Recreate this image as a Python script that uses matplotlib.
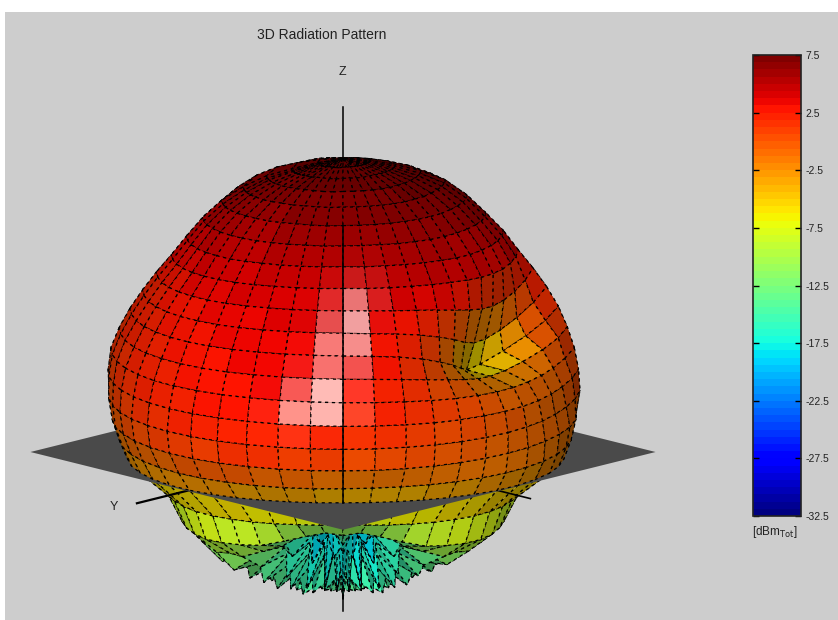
import numpy as np
import matplotlib
matplotlib.use("Agg")
import matplotlib.pyplot as plt
from matplotlib.colors import Normalize
from matplotlib.colorbar import ColorbarBase
from matplotlib.patches import Rectangle
from mpl_toolkits.mplot3d import proj3d

# far field gain, dB
GAIN_MIN = -32.5
GAIN_MAX = 7.5
CBAR_TICKS = [7.5, 2.5, -2.5, -7.5, -12.5, -17.5, -22.5, -27.5, -32.5]

# azimuth of each column, seen from the camera (0 faces us, + is to the right)
AZ_FRONT = [-90, -82.5, -75, -67.5, -60, -52.5, -45, -37.5, -30, -22.5, -15, -7.5, 0,
            7.5, 15, 22.5, 30, 37.5, 45, 52.5, 60, 67.5, 75, 82.5, 90]
AZ_BACK = [120, 150, 180, 210, 240, 270]

THETA_UP = [0, 5, 10, 15, 20, 25, 30, 35, 40, 45, 50, 55, 60, 65, 70, 75, 80, 85, 90]
GAIN_UP = [
    [7.5]*25,
    [7.1, 7.1, 7.1, 7.2, 7.2, 7.2, 7.2, 7.3, 7.3, 7.3, 7.3, 7.3, 7.4, 7.4, 7.4, 7.4, 7.4, 7.4, 7.4, 7.4, 7.4, 7.4, 7.4, 7.4, 7.4],
    [6.7, 6.7, 6.8, 6.8, 6.9, 6.9, 7.0, 7.0, 7.1, 7.1, 7.1, 7.1, 7.2, 7.2, 7.2, 7.2, 7.3, 7.3, 7.3, 7.3, 7.3, 7.3, 7.3, 7.3, 7.3],
    [6.5, 6.5, 6.6, 6.6, 6.7, 6.7, 6.8, 6.8, 6.9, 6.9, 6.9, 6.9, 7.0, 7.0, 7.0, 7.0, 7.0, 7.0, 7.1, 7.1, 7.2, 7.2, 7.2, 7.2, 7.2],
    [6.0, 6.0, 6.1, 6.2, 6.3, 6.3, 6.4, 6.5, 6.5, 6.6, 6.6, 6.6, 6.7, 6.7, 6.7, 6.7, 6.7, 6.7, 6.8, 6.8, 6.9, 7.0, 7.0, 7.0, 7.0],
    [5.4, 5.4, 5.5, 5.6, 5.7, 5.8, 5.9, 5.9, 6.0, 6.1, 6.1, 6.1, 6.2, 6.2, 6.2, 6.2, 6.2, 6.2, 6.2, 6.2, 6.3, 6.3, 6.3, 6.3, 6.2],
    [4.5, 4.6, 4.7, 4.8, 4.9, 5.0, 5.1, 5.2, 5.3, 5.4, 5.5, 5.5, 5.6, 5.6, 5.6, 5.5, 5.5, 5.4, 5.4, 5.4, 5.4, 5.4, 5.3, 5.3, 5.2],
    [3.5, 3.6, 3.7, 3.8, 4.0, 4.2, 4.3, 4.5, 4.7, 4.8, 4.9, 5.0, 5.1, 5.0, 5.0, 4.9, 4.8, 4.7, 4.5, 4.4, 4.4, 4.4, 4.4, 4.4, 4.4],
    [2.7, 2.8, 2.9, 3.1, 3.3, 3.5, 3.7, 3.9, 4.1, 4.3, 4.4, 4.5, 4.6, 4.5, 4.4, 4.3, 4.1, 3.9, 3.6, 3.3, 3.1, 3.0, 3.1, 3.3, 3.5],
    [2.3, 2.4, 2.5, 2.7, 2.9, 3.1, 3.3, 3.5, 3.7, 3.9, 4.0, 4.1, 4.1, 4.0, 3.7, 3.3, 2.7, 1.9, 1.0, 0.2, -0.2, 0.0, 0.7, 1.8, 3.0],
    [2.0, 2.1, 2.2, 2.4, 2.6, 2.8, 3.0, 3.2, 3.4, 3.6, 3.7, 3.8, 3.8, 3.5, 3.0, 2.1, 0.7, -1.0, -2.8, -4.0, -4.2, -3.2, -1.5, 0.6, 2.6],
    [1.8, 1.9, 2.0, 2.2, 2.4, 2.6, 2.8, 3.0, 3.2, 3.4, 3.5, 3.6, 3.5, 3.2, 2.4, 0.9, -1.2, -3.4, -5.6, -7.4, -7.0, -4.6, -2.0, 0.4, 2.2],
    [1.6, 1.7, 1.9, 2.0, 2.2, 2.4, 2.6, 2.8, 3.0, 3.2, 3.3, 3.3, 3.2, 2.9, 2.1, 0.9, -0.5, -2.0, -3.4, -4.2, -4.0, -2.8, -1.0, 0.6, 1.7],
    [1.3, 1.4, 1.6, 1.8, 2.0, 2.2, 2.4, 2.6, 2.8, 3.0, 3.0, 3.0, 2.8, 2.5, 2.0, 1.2, 0.4, -0.2, -0.8, -1.2, -1.4, -1.2, -0.8, 0.1, 1.2],
    [0.5, 0.7, 0.9, 1.2, 1.5, 1.8, 2.0, 2.3, 2.5, 2.6, 2.6, 2.5, 2.2, 2.0, 1.6, 1.0, 0.5, 0.1, -0.3, -0.6, -0.8, -0.8, -0.6, 0.0, 0.6],
    [-0.5, -0.2, 0.1, 0.5, 0.9, 1.2, 1.5, 1.7, 1.9, 2.0, 1.9, 1.7, 1.2, 1.2, 0.9, 0.4, 0.0, -0.3, -0.6, -0.9, -1.0, -1.1, -0.9, -0.5, -0.1],
    [-1.6, -1.3, -0.9, -0.6, -0.2, 0.1, 0.4, 0.6, 0.7, 0.7, 0.6, 0.3, -0.2, 0.0, -0.3, -0.6, -0.9, -1.1, -1.2, -1.2, -1.2, -1.1, -1.0, -1.0, -1.2],
    [-2.9, -2.6, -2.3, -2.1, -1.9, -1.8, -1.7, -1.7, -1.8, -1.9, -2.1, -2.4, -2.8, -2.9, -2.8, -2.6, -2.4, -2.2, -2.0, -1.9, -1.8, -1.8, -1.9, -2.0, -2.2],
    [-4.0, -3.8, -3.6, -3.5, -3.5, -3.6, -3.8, -4.1, -4.4, -4.8, -5.1, -5.3, -5.5, -5.4, -5.2, -4.9, -4.5, -4.1, -3.7, -3.4, -3.2, -3.0, -3.0, -3.1, -3.2],
]
# far side of the dome, only the top rows ever show over the crown
GAIN_UP_BACK = [
    [7.5, 7.5, 7.5, 7.5, 7.5, 7.5],
    [7.2, 7.0, 6.9, 7.0, 7.1, 7.1],
    [6.9, 6.6, 6.5, 6.6, 6.7, 6.7],
    [6.6, 6.2, 6.1, 6.2, 6.4, 6.5],
    [6.2, 5.8, 5.7, 5.8, 5.9, 6.0],
    [5.6, 5.2, 5.0, 5.1, 5.2, 5.4],
    [4.8, 4.4, 4.2, 4.3, 4.4, 4.5],
    [4.0, 3.6, 3.4, 3.5, 3.6, 3.5],
    [3.2, 2.8, 2.6, 2.7, 2.8, 2.7],
    [2.6, 2.2, 2.0, 2.1, 2.2, 2.3],
    [2.2, 1.8, 1.6, 1.7, 1.8, 2.0],
    [2.0, 1.6, 1.4, 1.5, 1.6, 1.8],
    [1.8, 1.4, 1.2, 1.3, 1.4, 1.6],
    [1.4, 1.0, 0.8, 0.9, 1.0, 1.3],
    [0.8, 0.4, 0.2, 0.3, 0.4, 0.5],
    [0.0, -0.4, -0.6, -0.5, -0.4, -0.5],
    [-0.8, -1.2, -1.4, -1.3, -1.2, -1.6],
    [-1.8, -2.2, -2.4, -2.3, -2.2, -2.9],
    [-3.0, -3.4, -3.6, -3.5, -3.4, -4.0],
]

THETA_LOW = [90, 100, 110, 120, 130, 140, 150, 160, 170, 180]
GAIN_LOW = [
    GAIN_UP[-1],
    [-8.8, -8.5, -8.2, -8.0, -7.8, -7.7, -7.8, -8.0, -8.2, -8.5, -8.8, -9.0, -9.1, -9.0, -8.7, -8.4, -8.1, -7.9, -7.7, -7.7, -7.8, -8.0, -8.2, -8.5, -8.8],
    [-9.8, -9.4, -9.1, -8.7, -8.4, -8.2, -8.4, -8.8, -9.4, -11.0, -12.5, -13.5, -13.0, -13.5, -12.4, -10.8, -9.2, -8.6, -8.2, -8.1, -8.3, -8.7, -9.1, -9.5, -9.8],
    [-11.0, -11.5, -10.4, -11.0, -10.2, -10.8, -10.8, -12.5, -14.0, -16.5, -17.0, -18.5, -15.0, -18.5, -17.0, -16.5, -14.0, -12.5, -10.8, -11.0, -10.4, -11.0, -10.6, -11.5, -11.0],
    [-11.5, -14.0, -11.0, -14.0, -10.8, -14.0, -12.5, -16.5, -15.0, -19.0, -17.5, -20.0, -16.0, -20.0, -17.5, -19.0, -15.0, -16.5, -12.8, -14.0, -11.8, -14.0, -12.0, -14.0, -12.0],
    [-14.0, -12.5, -14.5, -11.8, -15.0, -12.0, -17.0, -13.5, -19.0, -16.0, -20.5, -17.0, -19.0, -17.0, -20.5, -16.0, -19.0, -14.0, -17.0, -13.0, -15.0, -12.8, -14.5, -13.0, -14.0],
    [-14.0, -16.0, -13.0, -16.5, -12.5, -17.0, -13.0, -18.5, -13.5, -20.0, -14.0, -21.0, -13.5, -21.0, -14.0, -20.0, -13.5, -18.5, -13.2, -17.0, -13.0, -16.5, -13.5, -16.0, -14.0],
    [-16.0, -13.5, -16.5, -13.2, -17.0, -13.0, -18.0, -13.5, -19.0, -14.0, -19.5, -14.2, -19.0, -14.2, -19.5, -14.0, -19.0, -13.5, -18.0, -13.2, -17.0, -13.5, -16.5, -13.5, -16.0],
    [-14.0, -15.0, -14.0, -15.0, -14.0, -15.0, -14.0, -15.5, -14.0, -15.5, -14.0, -16.0, -13.0, -16.0, -14.0, -15.5, -14.0, -15.5, -14.0, -15.0, -14.0, -15.0, -14.0, -15.0, -14.0],
    [-14.0]*25,
]

AXIS_Z = [-21.7, 47.0]      # length of the z axis line
AXIS_Y_END = 38.5
AXIS_X_END = -35.0
PLANE_HALF = 29.2

W, H = 838, 620
PX_PER_DB = 7.57
ORIGIN_PX = (343, 620 - 452)   # where the origin lands in the image
ELEV, AZIM = 14.4, 135

GREY = "#cdcdcd"
PLANE_GREY = "#4a4a4a"
FONT = "Liberation Sans"

norm = Normalize(GAIN_MIN, GAIN_MAX)
cmap = plt.get_cmap("jet", 64)


def unit(el_deg, az_deg):
    el, az = np.radians(el_deg), np.radians(az_deg)
    return np.array([np.cos(el) * np.cos(az), np.cos(el) * np.sin(az), np.sin(el)])


def shaded_colors(x, y, z, gain, ambient=0.48):
    # facet colours: jet by gain, then a diffuse light and two glints
    pts = np.stack([x, y, z], axis=-1)
    n = np.cross(pts[1:, 1:] - pts[:-1, :-1], pts[1:, :-1] - pts[:-1, 1:])
    n = n / np.maximum(np.linalg.norm(n, axis=-1, keepdims=True), 1e-9)
    flip = np.sum(n * (pts[:-1, :-1] + pts[1:, 1:]), axis=-1) < 0
    n[flip] = -n[flip]
    view = unit(ELEV, AZIM)
    light = unit(22, AZIM - 12)
    diff = np.clip(np.sum(n * light, axis=-1), 0, 1)
    spec = np.zeros_like(diff)
    for lt, power, amount in ((unit(18, AZIM - 8), 90, 1.0), (unit(52, AZIM + 10), 120, 0.8)):
        half = (lt + view) / np.linalg.norm(lt + view)
        spec += amount * np.clip(np.sum(n * half, axis=-1), 0, 1) ** power
    g = (gain[:-1, :-1] + gain[1:, 1:] + gain[1:, :-1] + gain[:-1, 1:]) / 4
    rgba = cmap(norm(g))
    rgb = np.clip(rgba[..., :3] * (ambient + 0.55 * diff)[..., None], 0, 1)
    rgba[..., :3] = rgb + (1 - rgb) * np.clip(spec, 0, 1)[..., None]
    return rgba


def to_xyz(theta_deg, az_deg, gain):
    # radius is gain above the bottom of the colour range, az 0 faces the camera
    r = gain - GAIN_MIN
    th = np.radians(theta_deg)[:, None]
    ph = np.radians(np.asarray(az_deg) + AZIM)[None, :]
    return r * np.sin(th) * np.cos(ph), r * np.sin(th) * np.sin(ph), r * np.cos(th) * np.ones_like(ph)


fig = plt.figure(figsize=(W / 100, H / 100), dpi=100, facecolor="white")
fig.add_artist(Rectangle((5 / W, 0), 1, (H - 12) / H, transform=fig.transFigure,
                         facecolor=GREY, edgecolor="none", zorder=-5))

ax = fig.add_axes([0, 0, 1, 1], projection="3d", computed_zorder=False, proj_type="ortho")
ax.set_axis_off()
ax.patch.set_alpha(0)
ax.set_xlim(-45, 45)
ax.set_ylim(-45, 45)
ax.set_zlim(-45, 45)
ax.set_box_aspect((1, 1, 1))
ax.view_init(elev=ELEV, azim=AZIM)

theta_up = np.array(THETA_UP, dtype=float)
theta_low = np.array(THETA_LOW, dtype=float)
az_all = np.array(AZ_FRONT + AZ_BACK)
gain_up = np.hstack([np.array(GAIN_UP), np.array(GAIN_UP_BACK)])
gain_low = np.array(GAIN_LOW)

mesh = dict(rstride=1, cstride=1, shade=False, edgecolor="black", linewidth=0.9,
            linestyle=(0, (2.5, 3)))

x, y, z = to_xyz(theta_low, AZ_FRONT, gain_low)
ax.plot_surface(x, y, z, facecolors=shaded_colors(x, y, z, gain_low, ambient=0.56), zorder=1, **mesh)

ax.plot([0, 0], [0, AXIS_Y_END], [0, 0], color="black", lw=1.6, zorder=2)
ax.plot([0, AXIS_X_END], [0, 0], [0, 0], color="black", lw=1.2, zorder=2)

xp, yp = np.meshgrid([-PLANE_HALF, PLANE_HALF], [-PLANE_HALF, PLANE_HALF])
ax.plot_surface(xp, yp, np.zeros_like(xp), color=PLANE_GREY, shade=False, edgecolor="none", zorder=3)

x, y, z = to_xyz(theta_up, az_all, gain_up)
ax.plot_surface(x, y, z, facecolors=shaded_colors(x, y, z, gain_up), zorder=4, **mesh)

# the meridian facing us reads as one solid line down the front
front = AZ_FRONT.index(0)
ax.plot(x[5:, front], y[5:, front], z[5:, front], color="black", lw=1.1, zorder=5)

# z axis: sticks out of the crown and out of the bottom lobes
ax.plot([0, 0], [0, 0], [GAIN_MAX - GAIN_MIN, AXIS_Z[1]], color="black", lw=1.1, zorder=5)
ax.plot([0, 0], [0, 0], [AXIS_Z[0], -19.0], color="black", lw=1.1, zorder=5)

# fit the view to the image: scale first, then move the origin into place
fig.canvas.draw()


def to_px(px, py, pz):
    x2, y2, _ = proj3d.proj_transform(px, py, pz, ax.get_proj())
    return ax.transData.transform((x2, y2))


side = min(W, H)
p0 = to_px(0, 0, 0)
p1 = to_px(0, 0, 40)
now = np.hypot(*(p1 - p0)) / (40 * np.cos(np.radians(ELEV)))
side = side * PX_PER_DB / now
ax.set_position([0, 0, side / W, side / H])
fig.canvas.draw()
p0 = to_px(0, 0, 0)
ax.set_position([(ORIGIN_PX[0] - p0[0]) / W, (ORIGIN_PX[1] - p0[1]) / H, side / W, side / H])

fig.text(322 / W, 1 - 35 / H, "3D Radiation Pattern", ha="center", va="center",
         fontsize=10, family=FONT, color="#222222")
fig.text(342 / W, 1 - 72 / H, "Z", ha="center", va="center", fontsize=9, family=FONT, color="#222222")
fig.text(114 / W, 1 - 507 / H, "Y", ha="center", va="center", fontsize=9, family=FONT, color="#222222")

cax = fig.add_axes([753 / W, 1 - 516 / H, 48 / W, 461 / H])
cb = ColorbarBase(cax, cmap=cmap, norm=norm, ticks=CBAR_TICKS, orientation="vertical")
cb.ax.tick_params(axis="y", direction="in", length=4, width=1, left=True, right=True,
                  labelsize=7.5, pad=3, labelcolor="#222222")
cb.ax.set_yticklabels([f"{t:g}" for t in CBAR_TICKS], family=FONT)
cb.outline.set_linewidth(1.2)
cb.outline.set_edgecolor("#222222")
fig.text(775 / W, 1 - 532 / H, r"[dBm$_{\mathrm{Tot}}$]", ha="center", va="center",
         fontsize=8.5, family=FONT, color="#222222")

fig.savefig("out.png", dpi=100, facecolor=fig.get_facecolor())
